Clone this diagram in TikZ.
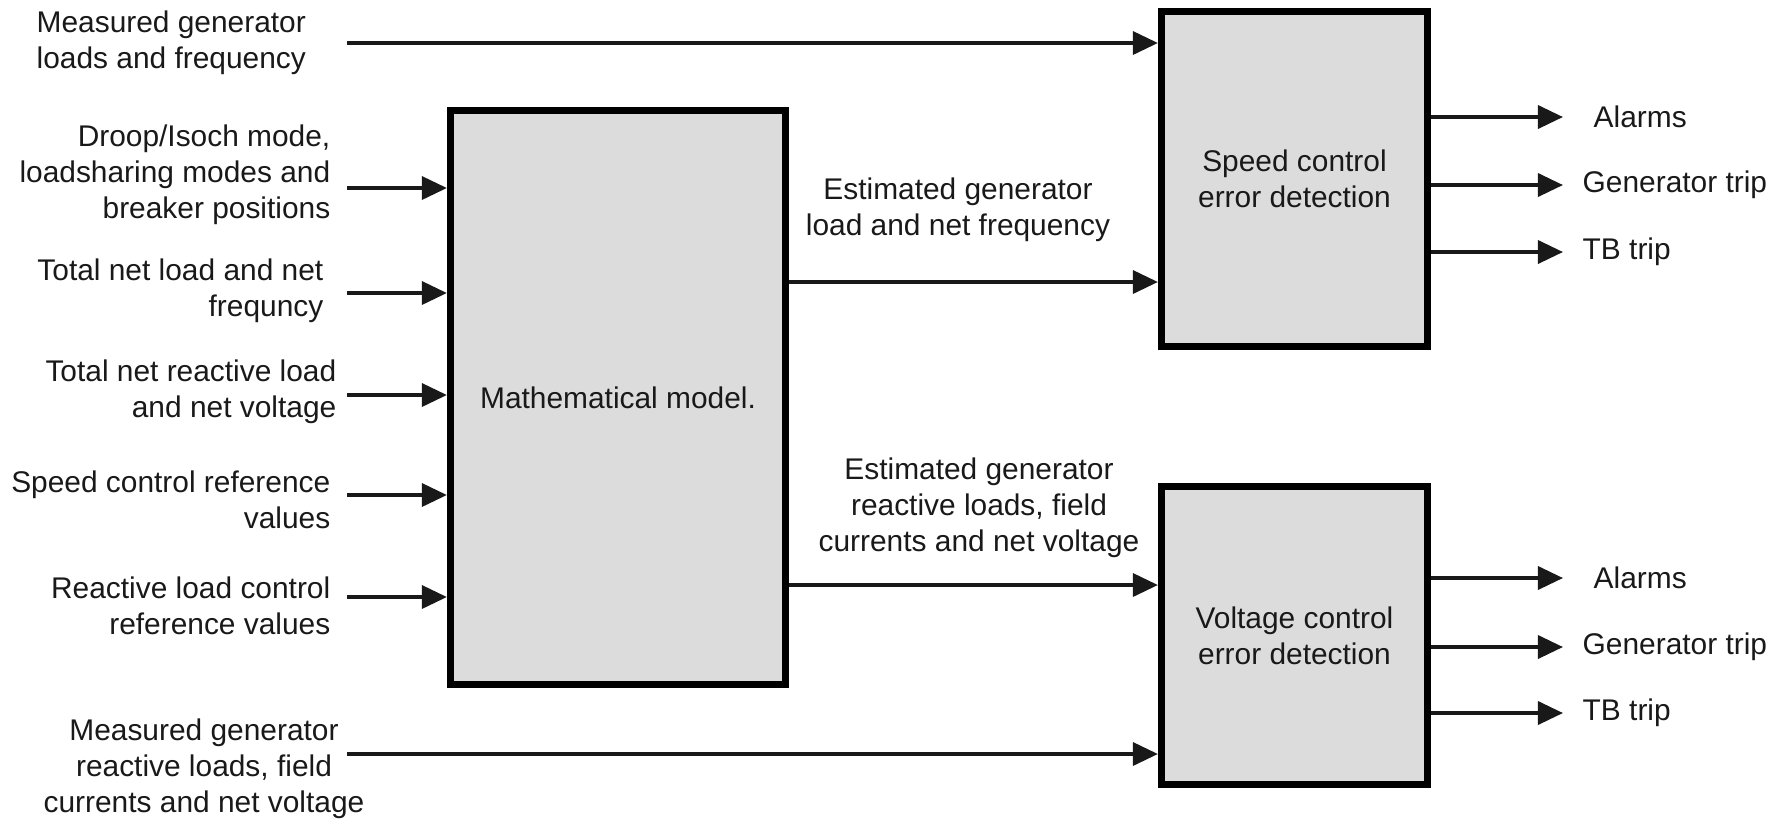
\documentclass[tikz,border=0pt]{standalone}
\usepackage{fontspec}
\setmainfont{Liberation Sans}
\usetikzlibrary{arrows.meta}
\definecolor{boxgray}{RGB}{220,220,220}
\definecolor{ink}{RGB}{25,25,25}
\begin{document}
\begin{tikzpicture}[x=0.01cm,y=-0.01cm,
  every node/.style={font=\fontsize{8.5}{10.25}\selectfont, text=ink, inner sep=0pt},
  blk/.style={draw=black, fill=boxgray, line width=2pt, align=center, inner sep=0pt},
  arr/.style={draw=ink, line width=1pt, -{Triangle[length=0.25cm,width=0.23cm]}},
  lbl/.style={align=right, anchor=east},
  outl/.style={anchor=west}]
\useasboundingbox (0,0) rectangle (1784,820);

% blocks
\node[blk, minimum width=3.35cm, minimum height=5.74cm] (math) at (618,397.5) {Mathematical model.};
\node[blk, minimum width=2.66cm, minimum height=3.35cm] (speed) at (1294.5,179) {Speed control\\error detection};
\node[blk, minimum width=2.66cm, minimum height=2.98cm] (volt) at (1294.5,635.5) {Voltage control\\error detection};

% top input to speed block
\coordinate (s0) at (347,43);
\draw[arr] (s0) -- (s0 -| speed.west);
\node[anchor=west, align=left] (l0) at (36,43) {Measured generator\\loads and frequency};

% inputs to mathematical model
\coordinate (s1) at (347,188);
\coordinate (s2) at (347,293);
\coordinate (s3) at (347,395);
\coordinate (s4) at (347,495);
\coordinate (s5) at (347,597);
\foreach \i in {1,...,5} {\draw[arr] (s\i) -- (s\i -| math.west);}
\node[lbl] (l1) at (331,175) {Droop/Isoch mode,\\loadsharing modes and\\breaker positions};
\node[lbl] (l2) at (324,291) {Total net load and net\\frequncy};
\node[lbl] (l3) at (337,392) {Total net reactive load\\and net voltage};
\node[lbl] (l4) at (331,500) {Speed control reference\\values};
\node[lbl] (l5) at (331,606) {Reactive load control\\reference values};

% bottom input to voltage block
\coordinate (s6) at (347,754);
\draw[arr] (s6) -- (s6 -| volt.west);
\node[align=center] (l6) at (204,769) {Measured generator\\reactive loads, field\\currents and net voltage};

% estimated outputs of the model
\coordinate (e1) at (0,282);
\coordinate (e2) at (0,585);
\draw[arr] (math.east |- e1) -- (speed.west |- e1);
\draw[arr] (math.east |- e2) -- (volt.west |- e2);
\node[align=center] (t1) at (958,210) {Estimated generator\\load and net frequency};
\node[align=center] (t2) at (979,508) {Estimated generator\\reactive loads, field\\currents and net voltage};

% outputs of speed block
\coordinate (a1) at (1563,117);
\coordinate (a2) at (1563,185);
\coordinate (a3) at (1563,252);
\foreach \i in {1,2,3} {\draw[arr] (speed.east |- a\i) -- (a\i);}
\node[outl] (o1) at (1593,117) {Alarms};
\node[outl] (o2) at (1582,185) {Generator trip};
\node[outl] (o3) at (1582,252) {TB trip};

% outputs of voltage block
\coordinate (b1) at (1563,578);
\coordinate (b2) at (1563,647);
\coordinate (b3) at (1563,713);
\foreach \i in {1,2,3} {\draw[arr] (volt.east |- b\i) -- (b\i);}
\node[outl] (p1) at (1593,578) {Alarms};
\node[outl] (p2) at (1582,647) {Generator trip};
\node[outl] (p3) at (1582,713) {TB trip};
\end{tikzpicture}
\end{document}
